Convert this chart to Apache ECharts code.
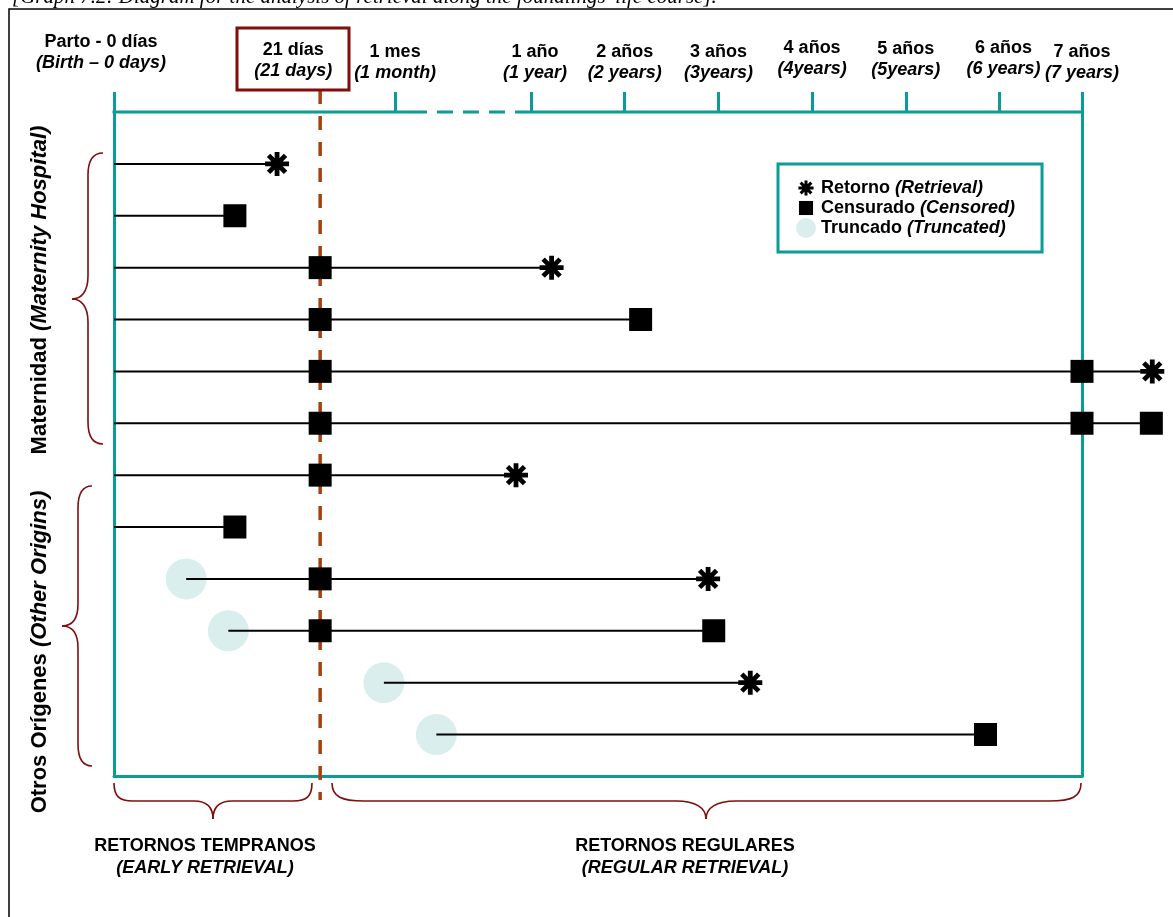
<!DOCTYPE html>
<html><head><meta charset="utf-8">
<script src="https://cdn.jsdelivr.net/npm/echarts@6/dist/echarts.min.js"></script>
<style>html,body{margin:0;padding:0;background:#fff}#c{width:1173px;height:917px}</style>
</head><body><div id="c"></div>
<script>
// ---------------- data ----------------
// one row per foundling (top to bottom); x in schematic timeline units (0 = birth)
const rows = [1, 2, 3, 4, 5, 6, 7, 8, 9, 10, 11, 12];
const entryPos = [0, 0, 0, 0, 0, 0, 0, 0, 0.77, 1.22, 2.88, 3.44];      // >0 = truncated entry
const exitPos = [1.74, 1.29, 4.67, 5.62, 11.08, 11.07, 4.29, 1.29, 6.34, 6.40, 6.79, 9.30];
const outcome = ['R', 'C', 'R', 'C', 'R', 'C', 'R', 'C', 'R', 'C', 'R', 'C']; // R = retrieval, C = censored
const tickPos = [0, 2.2, 3.0, 4.45, 5.45, 6.45, 7.45, 8.45, 9.45, 10.33];
const tickEs = ['Parto - 0 días', '21 días', '1 mes', '1 año', '2 años', '3 años', '4 años', '5 años', '6 años', '7 años'];
const tickEn = ['(Birth – 0 days)', '(21 days)', '(1 month)', '(1 year)', '(2 years)', '(3years)', '(4years)', '(5years)', '(6 years)', '(7 years)'];
const axisBreak = [3.34, 4.29];   // broken part of the timeline (1 month .. 1 year)
const earlyCut = 2.2;             // 21 days
const endCut = 10.33;             // 7 years
const legendNames = ['Retorno', 'Censurado', 'Truncado'];
const legendEn = ['(Retrieval)', '(Censored)', '(Truncated)'];

// ---------------- styles ----------------
const FONT = '"Liberation Sans", Arial, sans-serif';
const TEAL = '#0c9c98';
const BROWN = '#a4410f';
const DARKRED = '#7f0d0d';
const CIRCLE = '#daefed';
const AST_SHAPE = 'M0 40L100 40L100 60L0 60Z M40 0L60 0L60 100L40 100Z M21.72 7.57L92.43 78.28L78.28 92.43L7.57 21.72Z M7.57 78.28L78.28 7.57L92.43 21.72L21.72 92.43Z';
const AST = 'path://' + AST_SHAPE;
const AST_ICON = 'path://M-16 -16M116 116' + AST_SHAPE;
const SQ_ICON = 'path://M-21 -21M121 121M0 0L100 0L100 100L0 100Z';

const labelShift = {0: [-13, 10], 1: [-27, 2], 3: [4, 0], 6: [0, 4], 7: [0, 3], 8: [4, 4]}; // [dx, raise]
const axisRich = {};
tickPos.forEach((v, i) => {
  const s = labelShift[i] || [0, 0];
  const pl = s[0] > 0 ? 2 * s[0] : 0, pr = s[0] < 0 ? -2 * s[0] : 0;
  axisRich['a' + i] = {fontSize: 18, fontWeight: 'bold', fontFamily: FONT, color: '#000', lineHeight: 21, padding: [0, pr, 0, pl]};
  axisRich['b' + i] = {fontSize: 18, fontWeight: 'bold', fontStyle: 'italic', fontFamily: FONT, color: '#000', lineHeight: 21, padding: [0, pr, 0, pl]};
  if (s[1] > 0) axisRich['s' + i] = {fontSize: 1, lineHeight: s[1], color: 'rgba(0,0,0,0)'};
});

// ---------------- derived series data ----------------
const segData = rows.map((r, i) => [entryPos[i], exitPos[i], r]);
const truncData = rows.map((r, i) => [entryPos[i], r]).filter(d => d[0] > 0);
const retData = rows.map((r, i) => [exitPos[i], r]).filter((d, i) => outcome[i] === 'R');
const cenData = rows.map((r, i) => [exitPos[i], r]).filter((d, i) => outcome[i] === 'C');
const cutData = [];
rows.forEach((r, i) => {
  if (entryPos[i] < earlyCut && exitPos[i] > earlyCut) cutData.push([earlyCut, r]);
  if (exitPos[i] > endCut) cutData.push([endCut, r]);
});

// brace decoration: list of cubic pieces [x1,y1,c1x,c1y,c2x,c2y,x2,y2] or straight [x1,y1,x2,y2]
const braceStyle = {stroke: DARKRED, lineWidth: 1.6, fill: null};
function brace(pieces) {
  return {type: 'group', silent: true, children: pieces.map(p => p.length === 8
    ? {type: 'bezierCurve', shape: {x1: p[0], y1: p[1], cpx1: p[2], cpy1: p[3], cpx2: p[4], cpy2: p[5], x2: p[6], y2: p[7]}, style: braceStyle}
    : {type: 'line', shape: {x1: p[0], y1: p[1], x2: p[2], y2: p[3]}, style: braceStyle})};
}
const sideRich = {b: {fontSize: 22, fontWeight: 'bold', fontFamily: FONT, fill: '#000'},
                  i: {fontSize: 22, fontWeight: 'bold', fontStyle: 'italic', fontFamily: FONT, fill: '#000'}};
const bottomRich = {b: {fontSize: 18, fontWeight: 'bold', fontFamily: FONT, fill: '#000', lineHeight: 22},
                    i: {fontSize: 18, fontWeight: 'bold', fontStyle: 'italic', fontFamily: FONT, fill: '#000', lineHeight: 22}};

const chart = echarts.init(document.getElementById('c'), null, {renderer: 'canvas'});

chart.setOption({
  animation: false,
  backgroundColor: '#fff',
  grid: {left: 114, top: 112, right: 91, bottom: 141},
  legend: {
    data: [
      {name: legendNames[0], icon: AST_ICON},
      {name: legendNames[1], icon: SQ_ICON},
      {name: legendNames[2], icon: 'circle'}
    ],
    orient: 'vertical', left: 778, top: 164, padding: [14, 27, 14, 18], itemGap: 0,
    itemWidth: 20, itemHeight: 20, borderColor: TEAL, borderWidth: 3, selectedMode: false,
    formatter: (name) => name + ' {i|' + legendEn[legendNames.indexOf(name)] + '}',
    textStyle: {fontSize: 18, fontWeight: 'bold', fontFamily: FONT, color: '#000', lineHeight: 20,
      rich: {i: {fontSize: 18, fontWeight: 'bold', fontStyle: 'italic', fontFamily: FONT, color: '#000'}}}
  },
  xAxis: [
    {type: 'value', position: 'top', min: 0, max: endCut,
      axisLine: {show: false}, splitLine: {show: false},
      axisTick: {show: true, customValues: tickPos.filter(v => v !== earlyCut), length: 20, lineStyle: {color: TEAL, width: 3}},
      axisLabel: {show: true, customValues: tickPos, margin: 28, rich: axisRich,
        formatter: (v) => {
          let bi = 0;
          tickPos.forEach((t, i) => { if (Math.abs(t - v) < Math.abs(tickPos[bi] - v)) bi = i; });
          let s = '{a' + bi + '|' + tickEs[bi] + '}\n{b' + bi + '|' + tickEn[bi] + '}';
          if (axisRich['s' + bi]) s += '\n{s' + bi + '| }';
          return s;
        }}
    },
    {type: 'value', position: 'bottom', min: 0, max: endCut,
      axisLine: {show: true, onZero: false, lineStyle: {color: TEAL, width: 3}},
      axisTick: {show: false}, axisLabel: {show: false}, splitLine: {show: false}}
  ],
  yAxis: [
    {type: 'value', inverse: true, min: 0, max: 12.8,
      axisLine: {show: true, onZero: false, lineStyle: {color: TEAL, width: 3}},
      axisTick: {show: false}, axisLabel: {show: false}, splitLine: {show: false}},
    {type: 'value', inverse: true, min: 0, max: 12.8, position: 'right',
      axisLine: {show: true, onZero: false, lineStyle: {color: TEAL, width: 3}},
      axisTick: {show: false}, axisLabel: {show: false}, splitLine: {show: false}}
  ],
  series: [
    {name: 'Truncado', type: 'scatter', clip: false, data: truncData, symbol: 'circle', symbolSize: 41,
      itemStyle: {color: CIRCLE, opacity: 1}, z: 2, silent: true},
    {name: 'segments', type: 'custom', data: segData, encode: {x: [0, 1], y: 2}, z: 3, silent: true,
      renderItem: (params, api) => {
        const p1 = api.coord([api.value(0), api.value(2)]);
        const p2 = api.coord([api.value(1), api.value(2)]);
        return {type: 'line', shape: {x1: p1[0], y1: p1[1], x2: p2[0], y2: p2[1]}, style: {stroke: '#000', lineWidth: 2}};
      }},
    {name: 'topAxis', type: 'custom', data: [axisBreak], z: 3, silent: true,
      renderItem: (params, api) => {
        const cs = params.coordSys, y = cs.y;
        const b0 = api.coord([api.value(0), 1])[0], b1 = api.coord([api.value(1), 1])[0];
        const st = {stroke: TEAL, lineWidth: 3};
        return {type: 'group', children: [
          {type: 'line', shape: {x1: cs.x - 1.5, y1: y, x2: b0, y2: y}, style: st},
          {type: 'line', shape: {x1: b0, y1: y, x2: b1, y2: y}, style: {stroke: TEAL, lineWidth: 3, lineDash: [16, 10], lineDashOffset: 16}},
          {type: 'line', shape: {x1: b1, y1: y, x2: cs.x + cs.width + 1.5, y2: y}, style: st}
        ]};
      }},
    {name: 'cut21', type: 'custom', data: [[earlyCut, 1]], z: 4, silent: true,
      renderItem: (params, api) => {
        const cs = params.coordSys;
        const x = api.coord([api.value(0), api.value(1)])[0];
        return {type: 'line', shape: {x1: x, y1: cs.y - 22, x2: x, y2: cs.y + cs.height + 24},
          style: {stroke: BROWN, lineWidth: 3.5, lineDash: [14, 12]}};
      }},
    {name: 'Censurado', type: 'scatter', clip: false, data: cenData, symbol: 'rect', symbolSize: 23,
      itemStyle: {color: '#000', opacity: 1}, z: 5, silent: true},
    {name: 'cuts', type: 'scatter', clip: false, data: cutData, symbol: 'rect', symbolSize: 23,
      itemStyle: {color: '#000', opacity: 1}, z: 5, silent: true},
    {name: 'Retorno', type: 'scatter', clip: false, data: retData, symbol: AST, symbolSize: 24,
      itemStyle: {color: '#000', opacity: 1}, z: 6, silent: true}
  ],
  graphic: [
    {type: 'rect', shape: {x: 9, y: 9, width: 1300, height: 1000}, style: {stroke: '#000', lineWidth: 1.5, fill: null}, silent: true, z: 0},
    {type: 'text', x: 12, y: -3, silent: true,
      style: {text: "[Graph 7.2: Diagram for the analysis of retrieval along the foundlings' life course].",
        font: 'italic 21px "Liberation Serif", "Times New Roman", serif', fill: '#000', verticalAlign: 'middle', align: 'left'}},
    {type: 'rect', shape: {x: 237, y: 28, width: 112, height: 62}, style: {stroke: DARKRED, lineWidth: 3, fill: null}, silent: true, z: 10},
    brace([[103,153,93,153,88,160,88,175],[88,175,88,276],[88,276,88,292,81,299,72,299],[72,299,81,299,88,306,88,322],[88,322,88,422],[88,422,88,437,93,444,103,444]]),
    brace([[92,486,83,486,78,493,78,508],[78,508,78,604],[78,604,78,620,71,626,62,626],[62,626,71,626,78,632,78,648],[78,648,78,744],[78,744,78,759,83,766,92,766]]),
    brace([[114,783,114,796,119,801,133,801],[133,801,194,801],[194,801,207,801,213,808,213,819],[213,819,213,808,219,801,232,801],[232,801,293,801],[293,801,307,801,312,796,312,783]]),
    brace([[332,783,332,797,342,801,364,801],[364,801,676,801],[676,801,696,801,706,808,706,819],[706,819,706,808,716,801,736,801],[736,801,1049,801],[1049,801,1072,801,1081,797,1081,783]]),
    {type: 'text', x: 40, y: 290, rotation: Math.PI / 2, silent: true,
      style: {text: '{b|Maternidad }{i|(Maternity Hospital)}', align: 'center', verticalAlign: 'middle', rich: sideRich}},
    {type: 'text', x: 40, y: 652, rotation: Math.PI / 2, silent: true,
      style: {text: '{b|Otros Orígenes }{i|(Other Origins)}', align: 'center', verticalAlign: 'middle', rich: sideRich}},
    {type: 'text', x: 205, y: 857, silent: true,
      style: {text: '{b|RETORNOS TEMPRANOS}\n{i|(EARLY RETRIEVAL)}', align: 'center', verticalAlign: 'middle', rich: bottomRich}},
    {type: 'text', x: 685, y: 857, silent: true,
      style: {text: '{b|RETORNOS REGULARES}\n{i|(REGULAR RETRIEVAL)}', align: 'center', verticalAlign: 'middle', rich: bottomRich}}
  ]
});
</script>
</body></html>
